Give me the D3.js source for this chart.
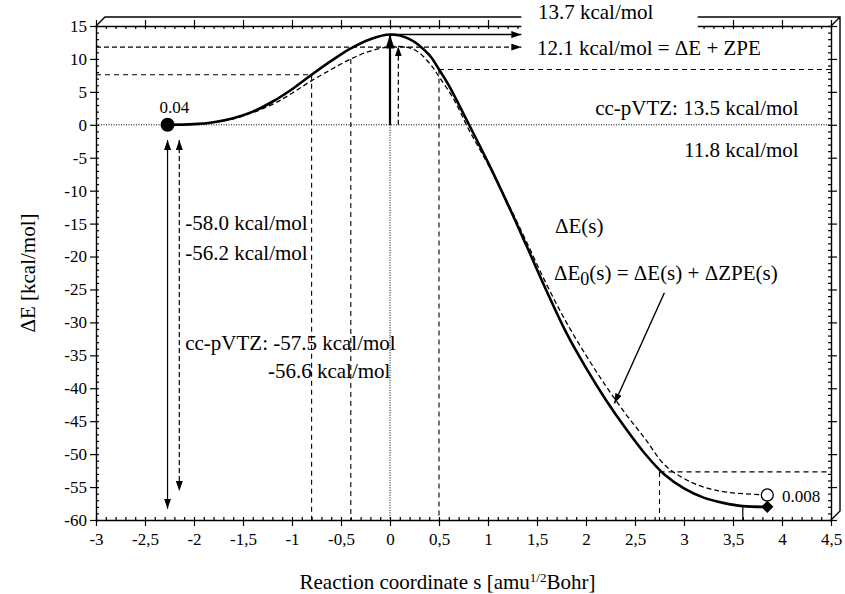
<!DOCTYPE html>
<html>
<head>
  <meta charset='utf-8'>
  <title>Reaction path &Delta;E(s)</title>
  <script src='https://cdnjs.cloudflare.com/ajax/libs/d3/7.8.5/d3.min.js'></script>
  <style type='text/css'>
    body { margin: 0; background: #fff; }
    #plot-container { width: 845px; height: 594px; }
    svg text { fill: #000; }
  </style>
</head>
<body>
  <div id='plot-container'></div>
  <script>
    // energy profile along the reaction coordinate
    const sSolid = [-2.27, -2.0, -1.8, -1.6, -1.4, -1.2, -1.0, -0.8, -0.6, -0.4, -0.2, 0,
                    0.2, 0.4, 0.5, 0.6, 0.8, 1.0, 1.2, 1.4, 1.6, 1.8, 2.0, 2.2, 2.4,
                    2.6, 2.8, 3.0, 3.2, 3.4, 3.6, 3.85];
    const eSolid = [0, 0.1, 0.4, 1.0, 2.0, 3.5, 5.4, 7.6, 9.7, 11.6, 13.0, 13.7,
                    13.0, 10.6, 8.4, 6.0, 0.2, -5.7, -12.0, -18.6, -25.3, -31.6, -36.9, -41.7, -46.0,
                    -49.9, -53.1, -55.2, -56.6, -57.4, -57.9, -58.0];
    // ΔE0(s) = ΔE(s) + ΔZPE(s)
    const sZpe = [-2.27, -2.0, -1.6, -1.2, -1.0, -0.8, -0.6, -0.4, -0.2, 0.05, 0.25, 0.4,
                  0.5, 0.65, 0.8, 1.0, 1.2, 1.4, 1.6, 1.8, 2.0, 2.2, 2.4, 2.6, 2.8,
                  3.0, 3.2, 3.45, 3.85];
    const eZpe = [0, 0.1, 0.9, 3.1, 4.8, 6.7, 8.4, 10.0, 11.2, 11.9, 11.4, 9.4,
                  7.3, 3.9, -0.6, -6.0, -11.8, -18.0, -24.3, -30.0, -35.0, -39.6, -43.8, -47.6, -51.6,
                  -53.7, -55.0, -55.8, -56.2];

    const xTickValues = [-3, -2.5, -2, -1.5, -1, -0.5, 0, 0.5, 1, 1.5, 2, 2.5, 3, 3.5, 4, 4.5];
    const xTickLabels = ['-3', '-2,5', '-2', '-1,5', '-1', '-0,5', '0', '0,5', '1', '1,5',
                         '2', '2,5', '3', '3,5', '4', '4,5'];
    const yTickValues = [15, 10, 5, 0, -5, -10, -15, -20, -25, -30, -35, -40, -45, -50, -55, -60];
    const yTickLabels = ['15', '10', '5', '0', '-5', '-10', '-15', '-20', '-25', '-30', '-35',
                         '-40', '-45', '-50', '-55', '-60'];

    // stationary points: [s, E]
    const reactant = [-2.27, 0];
    const productE = [3.85, -58.0];
    const productE0 = [3.85, -56.2];
    const pointLabels = ['0.04', '0.008'];

    // dashed guide lines: horizontal [E, s0, s1], vertical [s, E0, E1]
    const hGuides = [[7.6, -3, -0.8], [8.4, 0.5, 4.5], [-52.7, 2.75, 4.5]];
    const vGuides = [[-0.8, 7.6, -60], [-0.4, 10.0, -60], [0.5, 8.4, -60], [2.75, -52.7, -60]];

    // arrows: [s0, E0, s1, E1]
    const barrierArrow = [0, 0, 0, 13.7];
    const barrierZpeArrow = [0.085, 0, 0.085, 11.9];
    const barrierLead = [0, 13.7, 1.34, 13.7];
    const barrierZpeLead = [-3, 11.8, 1.34, 11.8];
    const reactionArrow = [-2.27, -2.3, -2.27, -58.3];
    const reactionZpeArrow = [-2.15, -2.3, -2.15, -55.6];
    const curvePointer = [2.8, -25.5, 2.29, -42.3];

    const barrierLabels = ['13.7 kcal/mol', '12.1 kcal/mol = \u0394E + ZPE',
                           'cc-pVTZ: 13.5 kcal/mol', '11.8 kcal/mol'];
    const reactionLabels = ['-58.0 kcal/mol', '-56.2 kcal/mol', 'cc-pVTZ: ', '-57.5 kcal/mol',
                            '-56.6 kcal/mol'];

    // prepares the plot area
    const W = 845, H = 594;
    const margin = { top: 26, right: 14, bottom: 74, left: 96 };
    const depth = 9;
    const serif = "'Liberation Serif', 'DejaVu Serif', 'Noto Serif', 'Times New Roman', Times, serif";
    const svg = d3.select('#plot-container').append('svg')
        .attr('width', W)
        .attr('height', H)
        .attr('font-family', serif);
    const x = d3.scaleLinear()
        .domain([-3, 4.5])
        .range([margin.left, W - margin.right]);
    const y = d3.scaleLinear()
        .domain([-60, 15])
        .range([H - margin.bottom, margin.top]);
    const x0 = x.range()[0], x1 = x.range()[1];
    const yT = y.range()[1], yB = y.range()[0];

    const defs = svg.append('defs');
    function head(id, len, half) {
        defs.append('marker')
            .attr('id', id)
            .attr('markerUnits', 'userSpaceOnUse')
            .attr('viewBox', `0 0 ${len} ${half * 2}`)
            .attr('markerWidth', len)
            .attr('markerHeight', half * 2)
            .attr('refX', len)
            .attr('refY', half)
            .attr('orient', 'auto-start-reverse')
            .append('path')
            .attr('d', `M0,0 L${len},${half} L0,${half * 2} Z`)
            .attr('fill', '#000');
    }
    head('head', 10, 3.5);
    head('headBig', 14, 4.5);

    // box frame with depth
    svg.append('path')
        .attr('d', `M${x0},${yT} L${x0 + depth},${yT - depth} L${x1 + depth},${yT - depth}` +
                   ` L${x1 + depth},${yB - depth} L${x1},${yB}` +
                   ` M${x1},${yT} L${x1 + depth},${yT - depth}`)
        .attr('fill', 'none')
        .attr('stroke', '#000')
        .attr('stroke-width', 1.4);

    function styleAxis(g, withText) {
        g.attr('font-family', serif).attr('font-size', 17);
        g.select('.domain').attr('stroke', '#000').attr('stroke-width', 1.4);
        g.selectAll('.tick line').attr('stroke', '#000').attr('stroke-width', 1.2);
        if (!withText) {
            g.select('.domain').remove();
        }
    }
    const fmtX = (d, i) => xTickLabels[i];
    const fmtY = (d, i) => yTickLabels[i];

    // minor ticks, pointing inwards
    svg.append('g').attr('transform', `translate(0, ${yB})`)
        .call(d3.axisBottom(x).tickValues(x.ticks(75)).tickSize(-3).tickFormat(''))
        .call(g => styleAxis(g, false));
    svg.append('g').attr('transform', `translate(0, ${yT})`)
        .call(d3.axisTop(x).tickValues(x.ticks(75)).tickSize(-3).tickFormat(''))
        .call(g => styleAxis(g, false));
    svg.append('g').attr('transform', `translate(${x0}, 0)`)
        .call(d3.axisLeft(y).tickValues(y.ticks(75)).tickSize(-3).tickFormat(''))
        .call(g => styleAxis(g, false));
    svg.append('g').attr('transform', `translate(${x1}, 0)`)
        .call(d3.axisRight(y).tickValues(y.ticks(75)).tickSize(-3).tickFormat(''))
        .call(g => styleAxis(g, false));

    // major ticks, pointing outwards
    svg.append('g').attr('transform', `translate(0, ${yB})`)
        .call(d3.axisBottom(x).tickValues(xTickValues).tickFormat(fmtX)
            .tickSize(6).tickSizeOuter(0).tickPadding(7))
        .call(g => styleAxis(g, true));
    svg.append('g').attr('transform', `translate(0, ${yT})`)
        .call(d3.axisTop(x).tickValues(xTickValues).tickFormat('').tickSize(6).tickSizeOuter(0))
        .call(g => styleAxis(g, true));
    svg.append('g').attr('transform', `translate(${x0}, 0)`)
        .call(d3.axisLeft(y).tickValues(yTickValues).tickFormat(fmtY)
            .tickSize(6).tickSizeOuter(0).tickPadding(3))
        .call(g => styleAxis(g, true));
    svg.append('g').attr('transform', `translate(${x1}, 0)`)
        .call(d3.axisRight(y).tickValues(yTickValues).tickFormat('').tickSize(6).tickSizeOuter(0))
        .call(g => styleAxis(g, true));

    // white box behind the barrier label, cutting the top frame
    svg.append('rect')
        .attr('x', x(barrierLead[2]))
        .attr('y', 0)
        .attr('width', x(3.14) - x(barrierLead[2]))
        .attr('height', yT + 4)
        .attr('fill', '#fff');

    // dotted zero lines
    const dotted = svg.append('g')
        .attr('stroke', '#000')
        .attr('stroke-width', 1)
        .attr('stroke-dasharray', '1,1.5');
    dotted.append('line')
        .attr('x1', x(-3)).attr('x2', x(4.5))
        .attr('y1', y(0)).attr('y2', y(0));
    dotted.append('line')
        .attr('x1', x(0)).attr('x2', x(0))
        .attr('y1', y(0)).attr('y2', y(-60));

    // dashed guide lines
    const guides = svg.append('g')
        .attr('stroke', '#000')
        .attr('stroke-width', 1.1)
        .attr('stroke-dasharray', '5,4');
    guides.selectAll('.hg').data(hGuides).enter().append('line')
        .attr('x1', d => x(d[1])).attr('x2', d => x(d[2]))
        .attr('y1', d => y(d[0])).attr('y2', d => y(d[0]));
    guides.selectAll('.vg').data(vGuides).enter().append('line')
        .attr('x1', d => x(d[0])).attr('x2', d => x(d[0]))
        .attr('y1', d => y(d[1])).attr('y2', d => y(d[2]));
    svg.append('line')
        .attr('x1', x(3.6)).attr('x2', x(3.6))
        .attr('y1', y(productE[1])).attr('y2', y(-60))
        .attr('stroke', '#000').attr('stroke-width', 1.2);

    // curves
    const line = d3.line()
        .x(d => x(d[0]))
        .y(d => y(d[1]))
        .curve(d3.curveCatmullRom.alpha(0.5));
    svg.append('path')
        .datum(d3.zip(sZpe, eZpe))
        .attr('d', line)
        .attr('fill', 'none')
        .attr('stroke', '#000')
        .attr('stroke-width', 1.3)
        .attr('stroke-dasharray', '5,3');
    svg.append('path')
        .datum(d3.zip(sSolid, eSolid))
        .attr('d', line)
        .attr('fill', 'none')
        .attr('stroke', '#000')
        .attr('stroke-width', 2.6);

    // arrows
    function arrow(a, opts) {
        const l = svg.append('line')
            .attr('x1', x(a[0])).attr('y1', y(a[1]))
            .attr('x2', x(a[2])).attr('y2', y(a[3]))
            .attr('stroke', '#000')
            .attr('stroke-width', opts.width || 1.2)
            .attr('marker-end', `url(#${opts.big ? 'headBig' : 'head'})`);
        if (opts.dash) l.attr('stroke-dasharray', '5,3');
        if (opts.both) l.attr('marker-start', 'url(#head)');
    }
    arrow(barrierArrow, { width: 2.2, big: true });
    arrow(barrierZpeArrow, { dash: true });
    arrow(barrierLead, { width: 1.4 });
    arrow(barrierZpeLead, { dash: true });
    arrow(reactionArrow, { both: true });
    arrow(reactionZpeArrow, { both: true, dash: true });
    arrow(curvePointer, { width: 1.4 });

    // stationary points
    svg.append('circle')
        .attr('cx', x(reactant[0])).attr('cy', y(reactant[1]))
        .attr('r', 7).attr('fill', '#000');
    svg.append('circle')
        .attr('cx', x(productE0[0])).attr('cy', y(productE0[1]))
        .attr('r', 6).attr('fill', '#fff')
        .attr('stroke', '#000').attr('stroke-width', 1.3);
    svg.append('path')
        .attr('d', d3.symbol(d3.symbolSquare, 75)())
        .attr('transform', `translate(${x(productE[0])}, ${y(productE[1])}) rotate(45)`)
        .attr('fill', '#000');

    // annotations
    const note = (s, e, str, size, anchor) => svg.append('text')
        .attr('x', x(s)).attr('y', y(e))
        .attr('font-family', serif)
        .attr('font-size', size)
        .attr('text-anchor', anchor || 'start')
        .text(str);
    note(-2.2, 1.8, pointLabels[0], 17, 'middle');
    note(4.0, -57.3, pointLabels[1], 17);
    note(1.51, 16.1, barrierLabels[0], 21);
    note(1.50, 10.6, barrierLabels[1], 21);
    note(4.17, 1.5, barrierLabels[2], 21, 'end');
    note(4.17, -4.9, barrierLabels[3], 21, 'end');
    note(-2.09, -16.0, reactionLabels[0], 21);
    note(-2.09, -20.5, reactionLabels[1], 21);
    note(-2.09, -34.2, reactionLabels[2] + reactionLabels[3], 21);
    const tzPrefix = note(-2.09, -34.2, reactionLabels[2], 21).attr('visibility', 'hidden');
    const indent = tzPrefix.node().getComputedTextLength();
    tzPrefix.remove();
    note(-2.09, -38.4, reactionLabels[4], 21).attr('x', x(-2.09) + indent);

    note(1.684, -16.4, '\u0394E(s)', 21);
    const e0 = note(1.673, -23.6, '', 21);
    e0.append('tspan').text('\u0394E');
    e0.append('tspan').attr('dy', 5).attr('font-size', 18).text('0');
    e0.append('tspan').attr('dy', -5).text('(s) = \u0394E(s) + \u0394ZPE(s)');

    // axis titles
    const xTitle = svg.append('text')
        .attr('x', (x0 + x1) / 2 - 16)
        .attr('y', 589)
        .attr('font-family', serif)
        .attr('font-size', 21)
        .attr('text-anchor', 'middle');
    xTitle.append('tspan').text('Reaction coordinate s [amu');
    xTitle.append('tspan').attr('dy', -7).attr('font-size', 13).text('1/2');
    xTitle.append('tspan').attr('dy', 7).text('Bohr]');
    svg.append('text')
        .attr('transform', `translate(35, ${(yT + yB) / 2}) rotate(-90)`)
        .attr('font-family', serif)
        .attr('font-size', 21)
        .attr('text-anchor', 'middle')
        .text('\u0394E [kcal/mol]');
  </script>
</body>
</html>
